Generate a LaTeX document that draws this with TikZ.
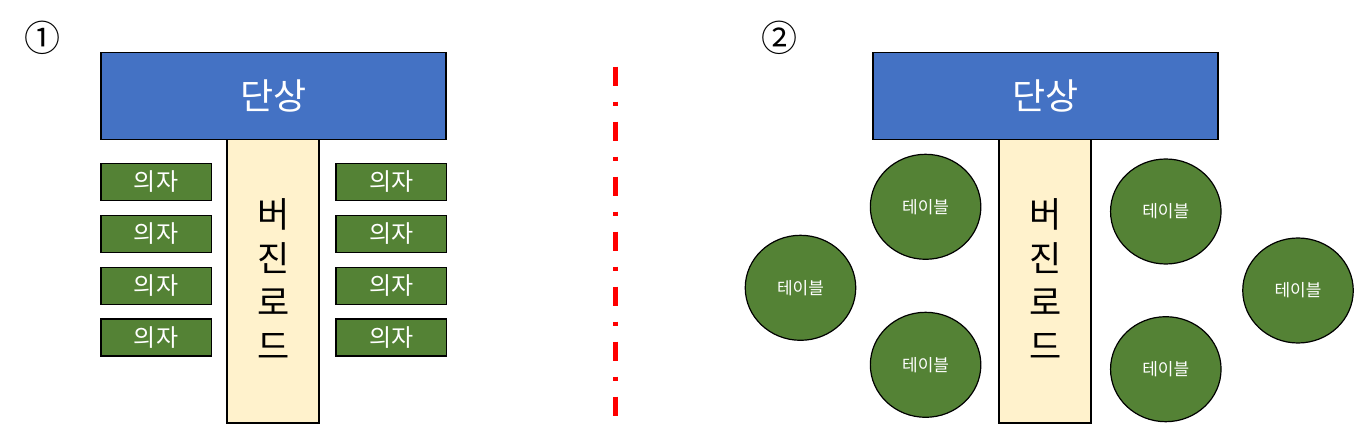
\documentclass[tikz,border=0pt]{standalone}
\usepackage{fontspec}
\setmainfont{Noto Sans CJK KR}
\usetikzlibrary{shapes.geometric}
\definecolor{stageblue}{HTML}{4472C4}
\definecolor{roadcream}{HTML}{FFF2CC}
\definecolor{seatgreen}{HTML}{548235}
\tikzset{
  box/.style={draw=black, line width=1.5pt, inner sep=0pt, anchor=center},
  stagebox/.style={box, fill=stageblue, minimum width=345pt, minimum height=87pt,
    text=white, font=\fontsize{36}{40}\selectfont},
  roadbox/.style={box, fill=roadcream, minimum width=92pt, minimum height=284pt},
  roadtext/.style={align=center, font=\fontsize{35}{44}\selectfont, inner sep=0pt},
  chairbox/.style={box, fill=seatgreen, minimum width=110.5pt, minimum height=37pt,
    text=white, font=\fontsize{24}{26}\selectfont},
  tablebox/.style={draw=black, line width=1.2pt, fill=seatgreen, ellipse, inner sep=0pt,
    minimum width=110.5pt, minimum height=105pt, text=white, font=\fontsize{17}{20}\selectfont},
  numlabel/.style={font=\fontsize{36}{38}\selectfont, inner sep=0pt}
}
\begin{document}
\begin{tikzpicture}[x=1pt,y=-1pt]
\useasboundingbox (0,0) rectangle (1354,427);
% panel 1
\node[numlabel] (n1) at (42.7,38.3) {①};
\node[roadbox] (road1) at (273.2,280.9) {};
\node[roadtext] (road1t) at (273.2,279) {버\\진\\로\\드};
\node[stagebox] (stage1) at (273.5,95.8) {단상};
\node[chairbox] (cl1) at (156,182) {의자};
\node[chairbox] (cl2) at (156,234) {의자};
\node[chairbox] (cl3) at (156,286) {의자};
\node[chairbox] (cl4) at (156,337.5) {의자};
\node[chairbox] (cr1) at (391.2,182) {의자};
\node[chairbox] (cr2) at (391.2,234) {의자};
\node[chairbox] (cr3) at (391.2,286) {의자};
\node[chairbox] (cr4) at (391.2,337.5) {의자};
% divider
\coordinate (dtop) at (615.7,66.7);
\coordinate (dbot) at (615.7,416.7);
\draw[red, line width=5pt, dash pattern=on 19pt off 16pt on 4.5pt off 15.5pt] (dtop) -- (dbot);
% panel 2
\node[numlabel] (n2) at (779,38.3) {②};
\node[roadbox] (road2) at (1045.2,280.9) {};
\node[roadtext] (road2t) at (1045.2,279) {버\\진\\로\\드};
\node[stagebox] (stage2) at (1045.6,95.8) {단상};
\node[tablebox] (t1) at (925.6,206.8) {테이블};
\node[tablebox] (t2) at (800.5,287.8) {테이블};
\node[tablebox] (t3) at (925.6,364.8) {테이블};
\node[tablebox] (t4) at (1165.8,211.5) {테이블};
\node[tablebox] (t5) at (1298,290.5) {테이블};
\node[tablebox] (t6) at (1165.8,369.2) {테이블};
\end{tikzpicture}
\end{document}
